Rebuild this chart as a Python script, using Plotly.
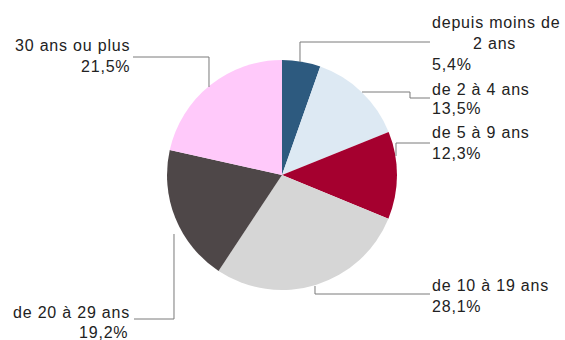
import plotly.graph_objects as go

# Share of residents by length of residence
categories = [
    "depuis moins de 2 ans",
    "de 2 à 4 ans",
    "de 5 à 9 ans",
    "de 10 à 19 ans",
    "de 20 à 29 ans",
    "30 ans ou plus",
]
values = [5.4, 13.5, 12.3, 28.1, 19.2, 21.5]
colors = ["#2d5a7f", "#dde9f3", "#a5002f", "#d6d6d6", "#4e4748", "#ffc9fa"]

W, H = 565, 340
CX, CY, R = 282, 175, 115


def px(x):
    return x / W


def py(y):
    return 1 - y / H


def pct(v):
    return f"{v:.1f}".replace(".", ",") + "%"


fig = go.Figure(
    go.Pie(
        labels=categories,
        values=values,
        marker=dict(colors=colors, line=dict(width=0)),
        sort=False,
        direction="clockwise",
        rotation=0,
        textinfo="none",
        hoverinfo="label+percent",
        showlegend=False,
        domain=dict(x=[px(CX - R), px(CX + R)], y=[py(CY + R), py(CY - R)]),
    )
)

# Leader lines (pixel polylines) and label blocks for each slice
leaders = [
    [(300, 62), (300, 42), (430, 42)],
    [(362, 92), (410, 92), (410, 98), (430, 98)],
    [(396, 156), (396, 143), (430, 143)],
    [(315, 286), (315, 294), (430, 294)],
    [(174, 234), (174, 319), (134, 319)],
    [(209, 87), (209, 57), (133, 57)],
]

for pts in leaders:
    path = "M " + " L ".join(f"{px(x):.5f},{py(y):.5f}" for x, y in pts)
    fig.add_shape(type="path", path=path, xref="paper", yref="paper",
                  line=dict(color="#7a7a7a", width=1))

font = dict(family="Liberation Sans, Arial, sans-serif", size=16, color="#222222")


def label(text, x, y, anchor):
    styled = f'<span style="letter-spacing:0.8px">{text}</span>'
    fig.add_annotation(text=styled, x=px(x), y=py(y), xref="paper", yref="paper",
                       xanchor=anchor, yanchor="middle", showarrow=False,
                       font=font, borderpad=0)


label("depuis moins de", 431, 23, "left")
label("2 ans", 494, 43, "center")
label(pct(values[0]), 431, 64, "left")
label(categories[1], 431, 90, "left")
label(pct(values[1]), 431, 109, "left")
label(categories[2], 431, 133, "left")
label(pct(values[2]), 431, 154, "left")
label(categories[3], 431, 285, "left")
label(pct(values[3]), 431, 306, "left")
label(categories[4], 131, 312, "right")
label(pct(values[4]), 129, 332, "right")
label(categories[5], 131, 46, "right")
label(pct(values[5]), 131, 67, "right")

fig.update_layout(
    width=W, height=H,
    margin=dict(l=0, r=0, t=0, b=0),
    paper_bgcolor="white",
    plot_bgcolor="white",
)

fig.write_html("out.html")
